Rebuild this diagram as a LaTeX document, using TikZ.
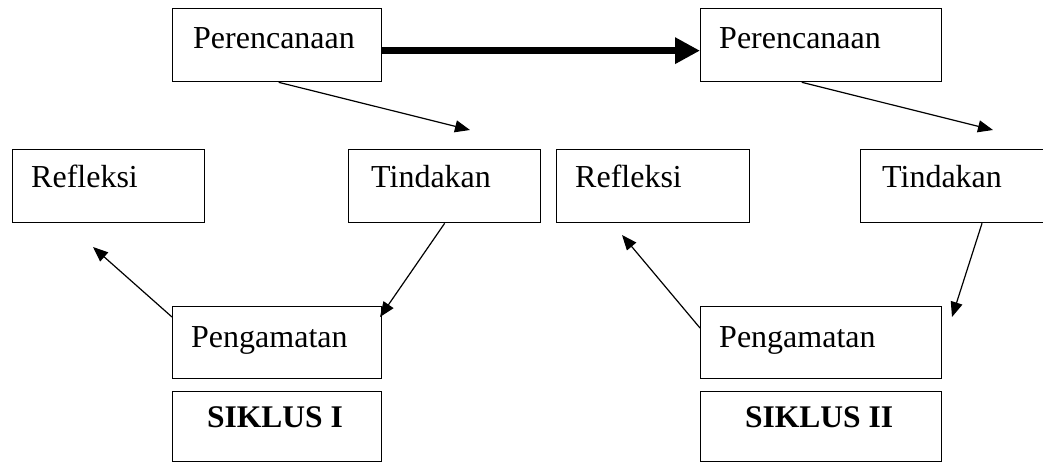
\documentclass[tikz,border=0pt]{standalone}
\usepackage{fontspec}
\setmainfont{Liberation Serif}
\usetikzlibrary{arrows.meta,calc}
\begin{document}
\begin{tikzpicture}[x=1pt,y=-1pt,
  box/.style={draw, line width=1.3pt, rectangle, anchor=north west, inner sep=0pt},
  lbl/.style={anchor=base west, inner sep=0pt, font=\fontsize{32}{36}\selectfont},
  conn/.style={line width=1.2pt, -{Triangle[length=15pt,width=12pt]}},
  big/.style={line width=7pt, -{Triangle[length=25pt,width=25pt]}}]
\clip (0,0) rectangle (1043,463);
\useasboundingbox (0,0) rectangle (1043,463);
% boxes
\node[box, minimum width=209pt, minimum height=73pt] (p1) at (172,8) {};
\node[box, minimum width=241pt, minimum height=73pt] (p2) at (700,8) {};
\node[box, minimum width=192pt, minimum height=73pt] (r1) at (12,149) {};
\node[box, minimum width=192pt, minimum height=73pt] (t1) at (348,149) {};
\node[box, minimum width=193pt, minimum height=73pt] (r2) at (556,149) {};
\node[box, minimum width=200pt, minimum height=73pt] (t2) at (860,149) {};
\node[box, minimum width=209pt, minimum height=72pt] (pg1) at (172,306) {};
\node[box, minimum width=209pt, minimum height=70pt] (s1) at (172,391) {};
\node[box, minimum width=241pt, minimum height=72pt] (pg2) at (700,306) {};
\node[box, minimum width=241pt, minimum height=70pt] (s2) at (700,391) {};
% labels
\node[lbl] (lp1) at (193,48) {Perencanaan};
\node[lbl] (lp2) at (719,48) {Perencanaan};
\node[lbl] (lr1) at (31,187) {Refleksi};
\node[lbl] (lr2) at (575,187) {Refleksi};
\node[lbl] (lt1) at (371,187) {Tindakan};
\node[lbl] (lt2) at (882,187) {Tindakan};
\node[lbl] (lg1) at (191,347) {Pengamatan};
\node[lbl] (lg2) at (719,347) {Pengamatan};
\node[lbl, font=\fontsize{31.5}{36}\selectfont\bfseries] (ls1) at (207,427) {SIKLUS I};
\node[lbl, font=\fontsize{31.5}{36}\selectfont\bfseries] (ls2) at (745,427) {SIKLUS II};
% free ends
\coordinate (e1) at (470,130);
\coordinate (e2) at (380,317);
\coordinate (e3) at (93,247);
\coordinate (e4) at (993,130);
\coordinate (e5) at (952,317);
\coordinate (e6) at (622,235);
% connectors
\draw[big] ($(p1.east)+(0,5.5)$) -- ($(p2.west)+(0,5.5)$);
\draw[conn] ($(p1.south)+(1.5,0)$) -- (e1);
\draw[conn] (t1.south) -- (e2);
\draw[conn] ($(pg1.north west)+(0,11)$) -- (e3);
\draw[conn] ($(p2.south west)!0.42!(p2.south east)$) -- (e4);
\draw[conn] ($(t2.south west)+(122,0)$) -- (e5);
\draw[conn] ($(pg2.north west)+(0,22)$) -- (e6);
\end{tikzpicture}
\end{document}
